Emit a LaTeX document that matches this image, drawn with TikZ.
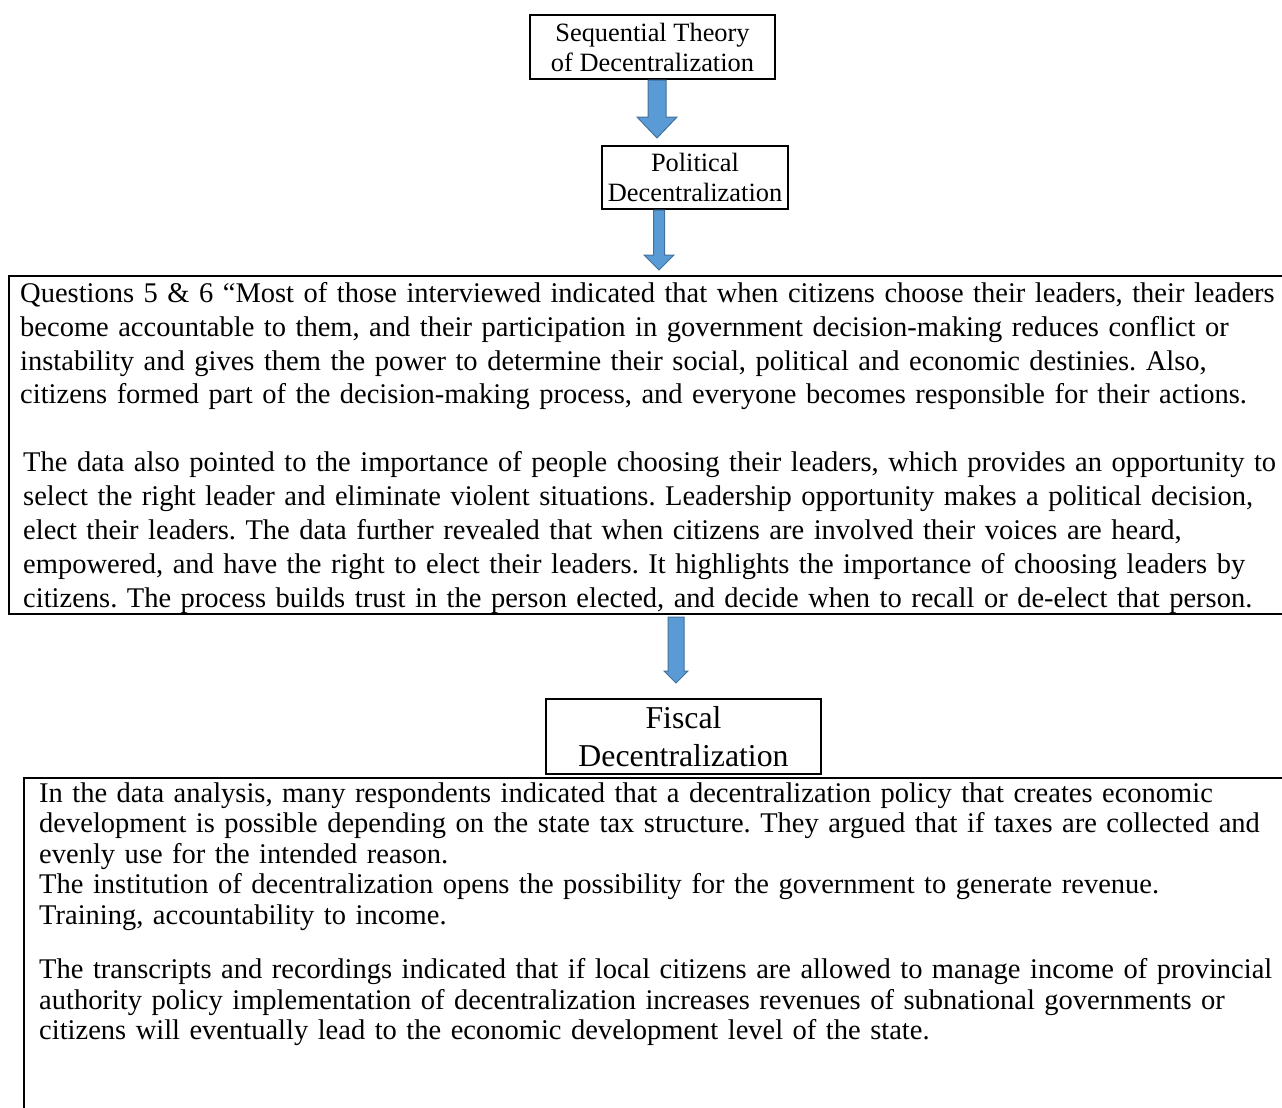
\documentclass[tikz,border=0pt]{standalone}
\usepackage{fontspec}
\setmainfont{Liberation Serif}
\usetikzlibrary{calc,positioning}
\definecolor{arrowfill}{RGB}{91,155,213}
\definecolor{arrowline}{RGB}{65,113,156}

\newcommand\blockarr[5]{%
  \filldraw[blockarrow] let \p1=(#1), \p2=(#2) in
    (\x1-#3,\y1) -- (\x1+#3,\y1) -- (\x1+#3,\y2+#5) -- (\x1+#4,\y2+#5)
    -- (\x1,\y2) -- (\x1-#4,\y2+#5) -- (\x1-#3,\y2+#5) -- cycle;}

\begin{document}
\begin{tikzpicture}[x=1pt,y=-1pt]
\tikzstyle{titlebox}=[rectangle,draw,line width=2pt,align=center,inner sep=0pt]
\tikzstyle{frame}=[rectangle,draw,line width=2pt,anchor=north west,inner sep=0pt]
\tikzstyle{bodytext}=[anchor=north west,inner sep=0pt,text width=1290pt,align=left]
\tikzstyle{blockarrow}=[fill=arrowfill,draw=arrowline,line width=1pt]
\clip (0,0) rectangle (1282,1108);
\node [titlebox,minimum width=245pt,minimum height=64pt,font=\fontsize{26.4}{30}\selectfont] (sdtBox) at (652.5,47) {Sequential Theory\\of Decentralization};
\node [titlebox,minimum width=186pt,minimum height=63pt,font=\fontsize{26.4}{30}\selectfont] (polBox) at (695,177.5) {Political\\Decentralization};
\node [frame,minimum width=1320pt,minimum height=338pt] (polFrame) at (8,275) {};
\node [bodytext,font=\fontsize{28.5}{33.9}\selectfont\frenchspacing] (polTxt) at (20,282) {Questions 5 \& 6 “Most of those interviewed indicated that when citizens choose their leaders, their leaders\\
become accountable to them, and their participation in government decision-making reduces conflict or\\
instability and gives them the power to determine their social, political and economic destinies. Also,\\
citizens formed part of the decision-making process, and everyone becomes responsible for their actions.\\[33.9pt]
\hspace*{3pt}The data also pointed to the importance of people choosing their leaders, which provides an opportunity to\\
\hspace*{3pt}select the right leader and eliminate violent situations. Leadership opportunity makes a political decision,\\
\hspace*{3pt}elect their leaders. The data further revealed that when citizens are involved their voices are heard,\\
\hspace*{3pt}empowered, and have the right to elect their leaders. It highlights the importance of choosing leaders by\\
\hspace*{3pt}citizens. The process builds trust in the person elected, and decide when to recall or de-elect that person.};
\node [titlebox,minimum width=275pt,minimum height=75pt,font=\fontsize{31.8}{38}\selectfont] (fisBox) at (683.5,736.5) {Fiscal\\Decentralization};
\node [frame,minimum width=1300pt,minimum height=400pt] (fisFrame) at (23,777) {};
\node [bodytext,font=\fontsize{28.5}{30.5}\selectfont\frenchspacing] (fisTxt) at (39,782.5) {In the data analysis, many respondents indicated that a decentralization policy that creates economic\\
development is possible depending on the state tax structure. They argued that if taxes are collected and\\
evenly use for the intended reason.\\
The institution of decentralization opens the possibility for the government to generate revenue.\\
Training, accountability to income.\\[24pt]
The transcripts and recordings indicated that if local citizens are allowed to manage income of provincial\\
authority policy implementation of decentralization increases revenues of subnational governments or\\
citizens will eventually lead to the economic development level of the state.};
\blockarr{$(sdtBox.south)+(4.5,0)$}{$(polBox.north)+(0,-7)$}{9pt}{20pt}{21pt}
\blockarr{$(polBox.south)+(-36,0)$}{$(polFrame.north)+(0,-5)$}{5.5pt}{15pt}{15pt}
\blockarr{$(fisBox.north |- polFrame.south)+(-7.5,2)$}{$(fisBox.north)+(0,-15)$}{8pt}{12pt}{12pt}
\end{tikzpicture}
\end{document}
